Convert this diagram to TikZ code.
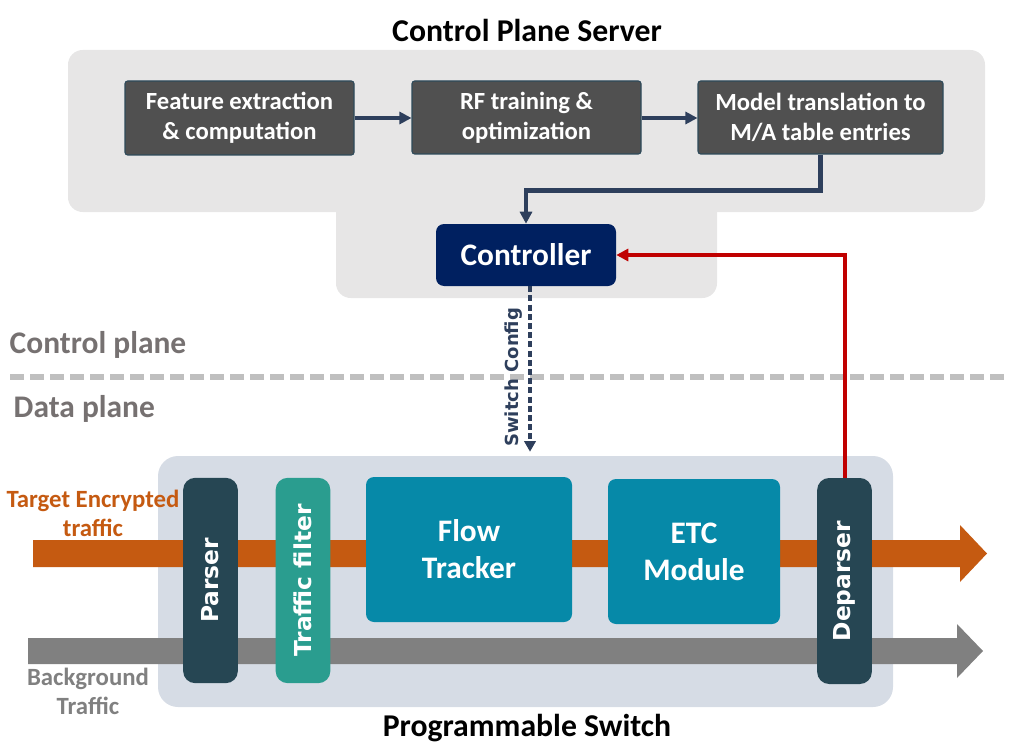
\documentclass[tikz,border=0pt]{standalone}
\usepackage{fontspec}
\setmainfont{Carlito}
\newfontfamily\vfont{DejaVu Sans}
\usetikzlibrary{arrows.meta}
\definecolor{srvbg}{HTML}{E7E6E6}
\definecolor{boxgray}{HTML}{505050}
\definecolor{boxedge}{HTML}{2E4A5A}
\definecolor{navy}{HTML}{2E3F5C}
\definecolor{ctrlblue}{HTML}{002060}
\definecolor{redline}{HTML}{C00000}
\definecolor{planegray}{HTML}{767171}
\definecolor{sepgray}{HTML}{BFBFBF}
\definecolor{swbg}{HTML}{D6DCE5}
\definecolor{orangeflow}{HTML}{C55A11}
\definecolor{grayflow}{HTML}{808080}
\definecolor{parsercol}{HTML}{264653}
\definecolor{filtercol}{HTML}{2A9D8F}
\definecolor{modcol}{HTML}{0689A8}
\tikzset{
  procbox/.style={draw=boxedge, line width=0.8pt, fill=boxgray, rounded corners=2pt, inner sep=0pt, align=center, text=white, font=\bfseries\fontsize{18.5}{22.5}\selectfont},
  ctrlbox/.style={fill=ctrlblue, rounded corners=6pt, inner sep=0pt, text=white, font=\bfseries\fontsize{23.5}{27}\selectfont},
  vbar/.style={rounded corners=9pt, inner sep=0pt, minimum width=41pt, minimum height=154pt},
  vtext/.style={rotate=90, text=white, font=\vfont\bfseries\fontsize{17.5}{20}\selectfont},
  modbox/.style={fill=modcol, rounded corners=6pt, inner sep=0pt, align=center, text=white, font=\bfseries\fontsize{23.5}{27.75}\selectfont},
  navyarrow/.style={draw=navy, line width=3.2pt, -{Triangle[length=9pt,width=9pt]}},
  planelbl/.style={anchor=west, text=planegray, font=\bfseries\fontsize{23.6}{27}\selectfont},
  titlelbl/.style={text=black, font=\bfseries\fontsize{23.8}{27}\selectfont},
  flowlbl/.style={align=center, font=\bfseries\fontsize{18.6}{21.75}\selectfont},
}
\begin{document}
\begin{tikzpicture}[x=0.75pt,y=-0.75pt]
\useasboundingbox (0,0) rectangle (1010,756);
% server background
\fill[srvbg, rounded corners=11pt] (68,50) rectangle (985,212);
\fill[srvbg, rounded corners=11pt] (336,180) rectangle (717,298);
\node[titlelbl] (srvtitle) at (527,30) {Control Plane Server};
% process boxes
\node[procbox, minimum width=171.75pt, minimum height=55.5pt] (b1) at (239.5,118) {Feature extraction\\\& computation};
\node[procbox, minimum width=171.75pt, minimum height=54.75pt] (b2) at (526.5,117.5) {RF training \&\\optimization};
\node[procbox, minimum width=183.75pt, minimum height=54.75pt] (b3) at (820.5,117.5) {Model translation to\\M/A table entries};
\node[ctrlbox, minimum width=135pt, minimum height=46.5pt] (ctrl) at (526,255) {Controller};
\draw[navyarrow] (b1.east |- 0,118) -- (b2.west |- 0,118);
\draw[navyarrow] (b2.east |- 0,118) -- (b3.west |- 0,118);
\draw[navyarrow] (b3.south) -- ++(0,36) -| (ctrl.north);
% plane labels and separator
\node[planelbl] (cplane) at (5,345) {Control plane};
\node[planelbl] (dplane) at (9,409) {Data plane};
\coordinate (sepL) at (10,377);
\coordinate (sepR) at (1005,377);
\draw[sepgray, line width=3.8pt, dash pattern=on 10.5pt off 4.5pt] (sepL) -- (sepR);
% switch background
\node[fill=swbg, rounded corners=15pt, minimum width=551.25pt, minimum height=188.25pt, inner sep=0pt] (sw) at (525.5,581.5) {};
\node[titlelbl] (swtitle) at (527,728) {Programmable Switch};
% flows
\fill[orangeflow] (33,540) -- (960,540) -- (960,525) -- (987,553.5) -- (960,582) -- (960,567) -- (33,567) -- cycle;
\fill[grayflow] (28,638) -- (957,638) -- (957,624) -- (983,651) -- (957,678) -- (957,664) -- (28,664) -- cycle;
\node[flowlbl, text=orangeflow] (tgt) at (93,513) {Target Encrypted\\traffic};
\node[flowlbl, text=grayflow] (bg) at (88,691) {Background\\Traffic};
% modules
\node[vbar, fill=parsercol] (parser) at (210.5,580.5) {};
\node[vtext] at (parser) {Parser};
\node[vbar, fill=filtercol] (filter) at (303,580.5) {};
\node[vtext] at (filter) {Traffic filter};
\node[modbox, minimum width=154.5pt, minimum height=108.75pt] (flow) at (469,549.5) {Flow\\Tracker};
\node[modbox, minimum width=129pt, minimum height=108.75pt] (etc) at (694,551.5) {ETC\\Module};
\node[vbar, fill=parsercol, minimum height=154.5pt] (dep) at (844.5,581) {};
\node[vtext] at (dep) {Deparser};
% control links
\draw[redline, line width=3pt, -{Triangle[length=9pt,width=9pt]}] (dep.north) |- (ctrl.east);
\coordinate (cfgend) at (ctrl.south |- sw.north);
\draw[navy, line width=3.4pt, dash pattern=on 4.5pt off 2.4pt, -{Triangle[length=8pt,width=8.5pt]}] ([xshift=3pt]ctrl.south) -- ([xshift=3pt,yshift=3pt]cfgend) node[pos=0.55, left=1pt, rotate=90, anchor=south, text=navy, font=\vfont\bfseries\fontsize{13.5}{15}\selectfont] {Switch Config};
\end{tikzpicture}
\end{document}
